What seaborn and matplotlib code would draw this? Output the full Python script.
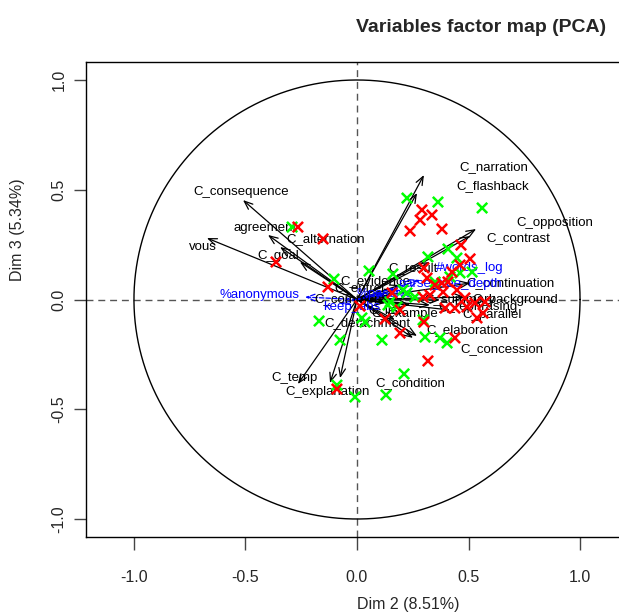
import numpy as np
import pandas as pd
import matplotlib
matplotlib.use("Agg")
import matplotlib.pyplot as plt
import seaborn as sns

sns.set_style("white")
plt.rcParams['font.family'] = ['Liberation Sans', 'DejaVu Sans']

# ---- active variables (black arrows) ----
var_names = ["C_consequence", "agreement", "vous", "C_goal", "C_alternation",
             "C_narration", "C_flashback", "C_opposition", "C_contrast", "C_result",
             "C_evidence", "C_entrel", "C_comment", "C_list", "C_example",
             "C_detachment", "C_continuation", "C_background", "C_summary",
             "C_rephrasing", "C_parallel", "C_elaboration", "C_concession",
             "C_condition", "C_temp", "C_explanation"]
var_x = [-0.511, -0.399, -0.673, -0.345, -0.256,
         0.300, 0.269, 0.534, 0.507, 0.327,
         0.193, 0.170, 0.148, 0.126, 0.238,
         0.170, 0.507, 0.484, 0.372,
         0.327, 0.417, 0.251, 0.269,
         -0.076, -0.265, -0.121]
var_y = [0.453, 0.294, 0.280, 0.239, 0.171,
         0.567, 0.485, 0.321, 0.289, 0.171,
         0.066, 0.043, 0.011, -0.016, -0.025,
         -0.093, 0.075, 0.011, -0.002,
         -0.025, -0.048, -0.175, -0.166,
         -0.358, -0.385, -0.380]
lab_x = [-0.520, -0.413, -0.691, -0.354, -0.139,
         0.614, 0.610, 0.888, 0.722, 0.251,
         0.081, 0.013, -0.031, 0.126, 0.215,
         0.049, 0.686, 0.709, 0.462,
         0.543, 0.605, 0.493, 0.650,
         0.238, -0.278, -0.130]
lab_y = [0.490, 0.326, 0.239, 0.198, 0.276,
         0.604, 0.517, 0.349, 0.280, 0.144,
         0.084, 0.052, 0.002, -0.048, -0.066,
         -0.107, 0.075, -0.002, -0.002,
         -0.034, -0.071, -0.139, -0.226,
         -0.380, -0.358, -0.421]

# ---- supplementary variables (blue dashed arrows) ----
sup_names = ["%anonymous", "keep_abs", "#words_log", "parse_tree_depth", "%passive"]
sup_x = [-0.233, -0.076, 0.283, 0.193, 0.126]
sup_y = [0.011, -0.020, 0.089, 0.043, 0.025]
sup_lab_x = [-0.435, -0.022, 0.507, 0.417, 0.126]
sup_lab_y = [0.020, -0.034, 0.144, 0.071, 0.025]

# ---- red and green points ----
red_x = [-0.265, -0.152, -0.363, -0.130, 0.013, 0.157, 0.314, 0.300, 0.327, 0.193,
         0.126, 0.300, 0.193, 0.318, 0.291, 0.336, 0.283, 0.381, 0.238, 0.466,
         0.507, 0.426, 0.462, 0.381, 0.408, 0.350, 0.386, 0.448, 0.484, 0.529,
         0.574, 0.395, 0.439, 0.565, 0.538, 0.439, -0.090, 0.296, 0.493]
red_y = [0.330, 0.276, 0.171, 0.057, -0.030, 0.030, 0.098, 0.144, 0.020, -0.048,
         -0.089, -0.103, -0.153, -0.280, 0.408, 0.385, 0.362, 0.321, 0.312, 0.248,
         0.185, 0.125, 0.157, 0.075, 0.080, 0.066, 0.034, 0.043, 0.007, -0.016,
         -0.011, -0.039, -0.039, -0.062, -0.084, -0.175, -0.408, 0.011, -0.034]
green_x = [-0.291, 0.054, -0.103, 0.161, 0.224, 0.148, 0.022, -0.170, 0.296, 0.305,
           0.372, 0.404, 0.112, -0.076, 0.211, 0.130, -0.090, -0.009, 0.224, 0.363,
           0.561, 0.408, 0.318, 0.448, 0.462, 0.516, 0.417, 0.350, 0.260, 0.139,
           0.036, 0.179, 0.206]
green_y = [0.330, 0.130, 0.093, 0.116, 0.030, -0.011, -0.084, -0.098, -0.093, -0.171,
           -0.175, -0.198, -0.185, -0.185, -0.339, -0.435, -0.390, -0.444, 0.462, 0.444,
           0.417, 0.230, 0.194, 0.189, 0.121, 0.125, 0.103, 0.080, 0.011, -0.025,
           -0.103, -0.034, 0.043]

x_ticks = [-1.0, -0.5, 0.0, 0.5, 1.0]
y_ticks = [-1.0, -0.5, 0.0, 0.5, 1.0]
tick_labels = ["-1.0", "-0.5", "0.0", "0.5", "1.0"]

W, H = 619, 614
fig = plt.figure(figsize=(W / 100, H / 100), dpi=100)
ax = fig.add_axes([86 / W, 1 - 537 / H, (628 - 86) / W, (537 - 62) / H])
ax.set_xlim(-1.215, 1.215)
ax.set_ylim(-1.082, 1.082)

# zero lines and unit circle
ax.axhline(0, ls=(0, (5, 3.5)), color="#555555", lw=1, zorder=1)
ax.axvline(0, ls=(0, (5, 3.5)), color="#555555", lw=1, zorder=1)
t = np.linspace(0, 2 * np.pi, 400)
ax.plot(np.cos(t), np.sin(t), color="black", lw=1, zorder=1)

# arrows
for xv, yv in zip(var_x, var_y):
    ax.annotate("", xy=(xv, yv), xytext=(0, 0),
                arrowprops=dict(arrowstyle="->,head_length=0.55,head_width=0.22",
                                mutation_scale=11, lw=0.9, color="black",
                                shrinkA=0, shrinkB=0), zorder=2)
for xv, yv in zip(sup_x, sup_y):
    ax.annotate("", xy=(xv, yv), xytext=(0, 0),
                arrowprops=dict(arrowstyle="->,head_length=0.55,head_width=0.22",
                                mutation_scale=11, lw=0.9, color="blue", ls="--",
                                shrinkA=0, shrinkB=0), zorder=2)

for name, lx, ly in zip(var_names, lab_x, lab_y):
    ax.text(lx, ly, name, ha="center", va="center", fontsize=9.5, color="black", zorder=3)
for name, lx, ly in zip(sup_names, sup_lab_x, sup_lab_y):
    ax.text(lx, ly, name, ha="center", va="center", fontsize=9.5, color="blue", zorder=3)

pts = pd.DataFrame({
    "x": green_x + red_x,
    "y": green_y + red_y,
    "group": ["green"] * len(green_x) + ["red"] * len(red_x),
})
sns.scatterplot(data=pts, x="x", y="y", hue="group",
                palette={"green": "#00FF00", "red": "#FF0000"},
                marker="x", s=55, linewidth=1.8, legend=False, ax=ax, zorder=4)

ax.set_xlabel("")
ax.set_ylabel("")
ax.set_xticks(x_ticks)
ax.set_xticklabels(tick_labels)
ax.set_yticks(y_ticks)
ax.set_yticklabels(tick_labels, rotation=90, va="center")
ax.tick_params(axis="x", direction="out", length=9, width=1, color="#444444",
               labelsize=11.5, pad=15, bottom=True)
ax.tick_params(axis="y", direction="out", length=9, width=1, color="#444444",
               labelsize=11.5, pad=5, left=True)
for sp in ax.spines.values():
    sp.set_color("black")
    sp.set_linewidth(1)
    sp.set_visible(True)

fig.text(481 / W, 1 - 27 / H, "Variables factor map (PCA)", ha="center", va="center",
         fontsize=14, fontweight="bold")
fig.text(408 / W, 1 - 605 / H, "Dim 2 (8.51%)", ha="center", va="center", fontsize=11.5)
fig.text(18 / W, 1 - 230 / H, "Dim 3 (5.34%)", ha="center", va="center", fontsize=11.5,
         rotation=90)

fig.savefig("out.png", dpi=100)
